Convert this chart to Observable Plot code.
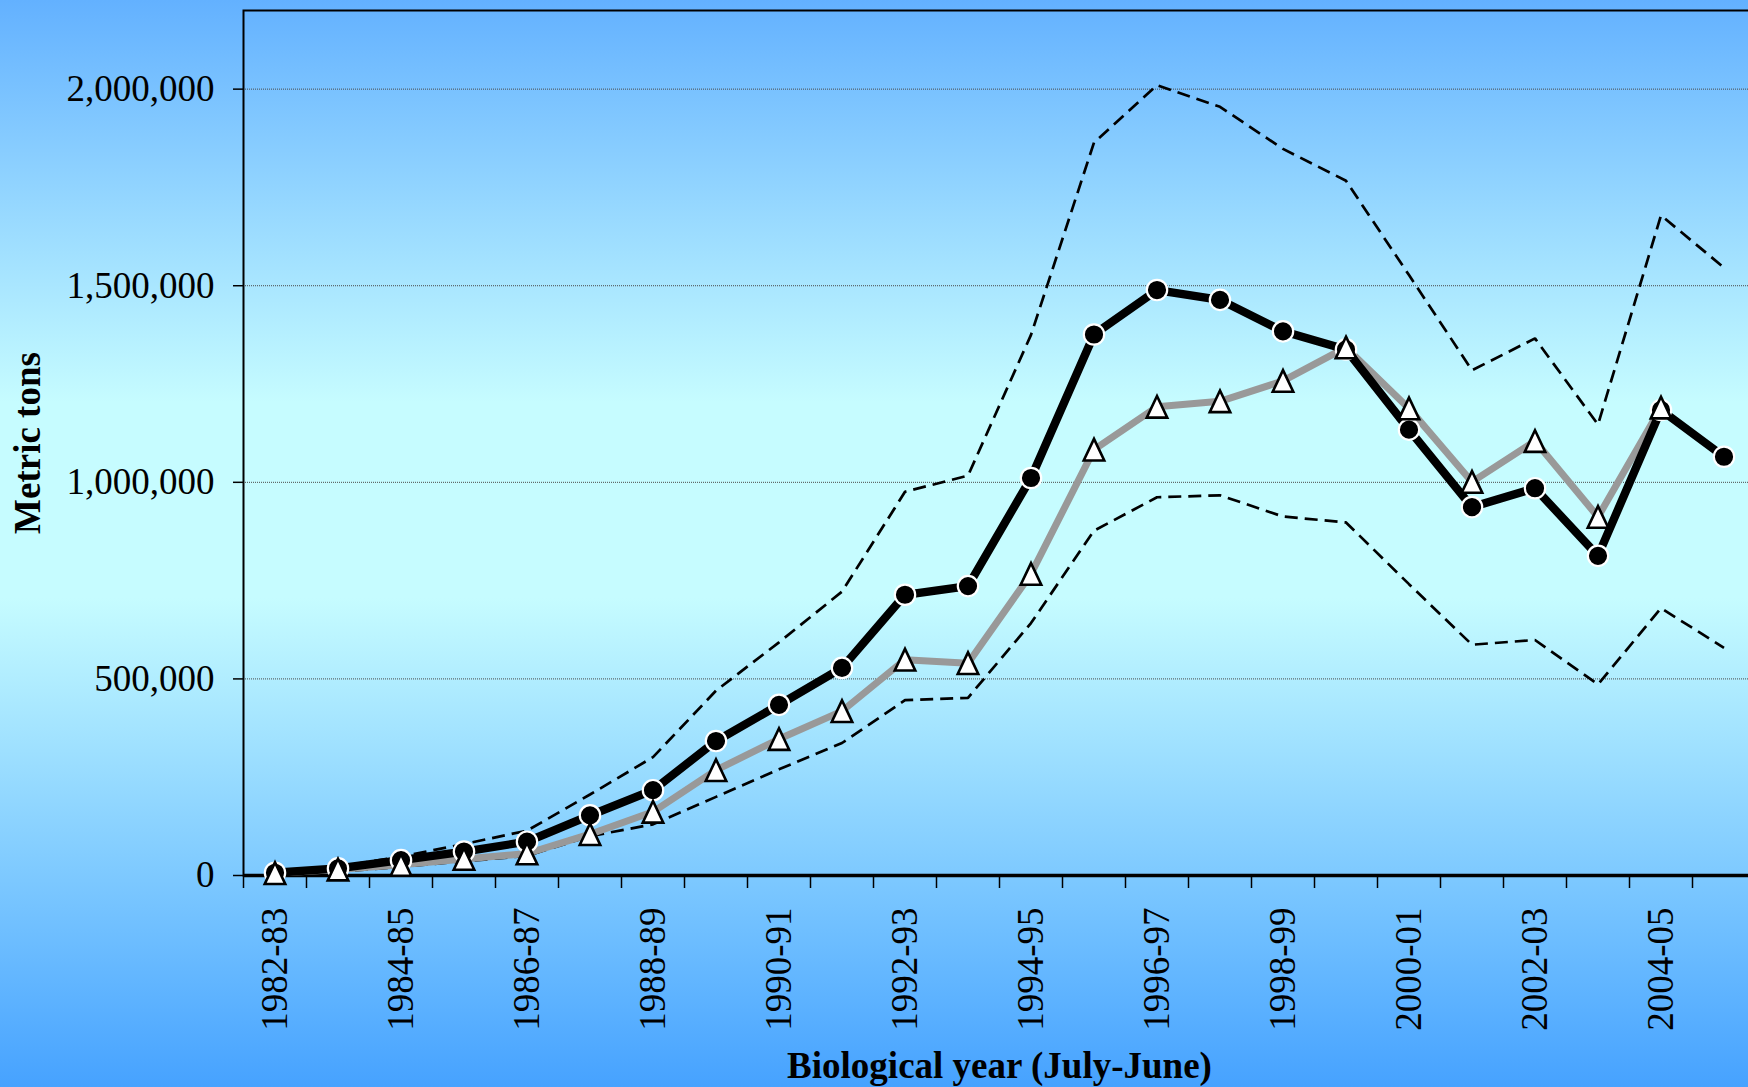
<!DOCTYPE html>
<html><head><meta charset="utf-8">
<script src="https://cdn.jsdelivr.net/npm/d3@7"></script>
<script src="https://cdn.jsdelivr.net/npm/@observablehq/plot@0.6"></script>
<style>
html,body{margin:0;padding:0;width:1748px;height:1087px;overflow:hidden;}
body{background:linear-gradient(to bottom,#63B1FF 0%,#C6FCFF 37%,#C6FCFF 55%,#46A2FF 100%);}
#chart svg{display:block;}
</style></head><body><div id="chart"></div>
<script>
const years = ["1982-83","1983-84","1984-85","1985-86","1986-87","1987-88","1988-89","1989-90",
  "1990-91","1991-92","1992-93","1993-94","1994-95","1995-96","1996-97","1997-98","1998-99",
  "1999-00","2000-01","2001-02","2002-03","2003-04","2004-05","2005-06"];
const mainEstimate = [7000,18000,39000,61000,86000,153000,217000,342000,434000,528000,714000,736000,
  1011000,1376000,1489000,1464000,1384000,1338000,1134000,937000,985000,813000,1184000,1065000];
const altEstimate = [6000,15000,27000,42000,56000,105000,162000,268000,347000,418000,549000,540000,
  767000,1083000,1192000,1206000,1258000,1343000,1188000,1001000,1105000,912000,1190000,null];
const upperBound = [9000,22000,48000,80000,114000,206000,301000,470000,593000,722000,976000,1017000,
  1375000,1864000,2010000,1955000,1848000,1767000,1527000,1285000,1366000,1147000,1679000,1546000];
const lowerBound = [3000,10000,22000,36000,50000,100000,130000,200000,270000,337000,446000,452000,
  642000,877000,962000,967000,913000,898000,741000,587000,599000,486000,680000,579000];
const yTicks = [0,500000,1000000,1500000,2000000];
const yMax = 2200000;
const xLabelTicks = years.map((d,i)=>i).filter(i=>i%2===0);
const xBoundaryTicks = d3.range(0, years.length + 1).map(i => i - 0.5);
const yTitle = "Metric tons";
const xTitle = "Biological year (July-June)";

const rows = vals => years.map((year,i)=>({i, year, v: vals[i]})).filter(d=>d.v!=null);

const tri = {draw(ctx, size){ const r = Math.sqrt(size/Math.PI); const w = 0.95*r, h = r;
  ctx.moveTo(0,-h); ctx.lineTo(w,h); ctx.lineTo(-w,h); ctx.closePath(); }};

const FS = 37;
const chart = Plot.plot({
  width: 1756, height: 1087,
  marginLeft: 243, marginRight: 1, marginTop: 10, marginBottom: 212,
  style: {background: "transparent", fontFamily: "'Liberation Serif', 'Times New Roman', serif", maxWidth: "none", color: "black"},
  x: {type: "linear", domain: [-0.5, years.length - 0.5], label: null},
  y: {domain: [0, yMax], label: null},
  marks: [
    Plot.gridY(yTicks.slice(1), {stroke: "#4a4a4a", strokeOpacity: 1, strokeWidth: 1, strokeDasharray: "1,1"}),
    Plot.frame({stroke: "black", strokeWidth: 2}),
    Plot.ruleY([0], {stroke: "black", strokeWidth: 3.5}),
    Plot.axisY(yTicks, {tickFormat: d3.format(","), tickSize: 10, tickPadding: 19, fontSize: FS, label: null, stroke: "black", strokeWidth: 1.5}),
    Plot.axisX(xBoundaryTicks, {tickFormat: () => "", tickSize: 13, label: null, stroke: "black", strokeWidth: 1.5}),
    Plot.axisX(xLabelTicks, {tickFormat: i => years[i], tickSize: 0, tickPadding: 32, tickRotate: -90, fontSize: FS, label: null}),
    Plot.line(rows(upperBound), {x: "i", y: "v", stroke: "black", strokeWidth: 2.7, strokeDasharray: "13,7", strokeLinecap: "butt", strokeLinejoin: "miter"}),
    Plot.line(rows(lowerBound), {x: "i", y: "v", stroke: "black", strokeWidth: 2.7, strokeDasharray: "13,7", strokeLinecap: "butt", strokeLinejoin: "miter"}),
    Plot.line(rows(altEstimate), {x: "i", y: "v", stroke: "#999999", strokeWidth: 7, strokeLinejoin: "round"}),
    Plot.line(rows(mainEstimate), {x: "i", y: "v", stroke: "black", strokeWidth: 8.3, strokeLinejoin: "round"}),
    Plot.dot(rows(mainEstimate), {x: "i", y: "v", r: 10.2, fill: "black", stroke: "white", strokeWidth: 2.2}),
    Plot.dot(rows(altEstimate), {x: "i", y: "v", r: 10.8, symbol: tri, fill: "white", stroke: "black", strokeWidth: 2.6}),
    Plot.text([yTitle], {frameAnchor: "left", textAnchor: "middle", lineAnchor: "middle", dx: -215, rotate: -90, fontWeight: "bold", fontSize: FS, text: d => d}),
    Plot.text([xTitle], {frameAnchor: "bottom", textAnchor: "middle", lineAnchor: "middle", dy: 191, fontWeight: "bold", fontSize: FS, text: d => d})
  ]
});
document.getElementById("chart").appendChild(chart);
</script></body></html>
